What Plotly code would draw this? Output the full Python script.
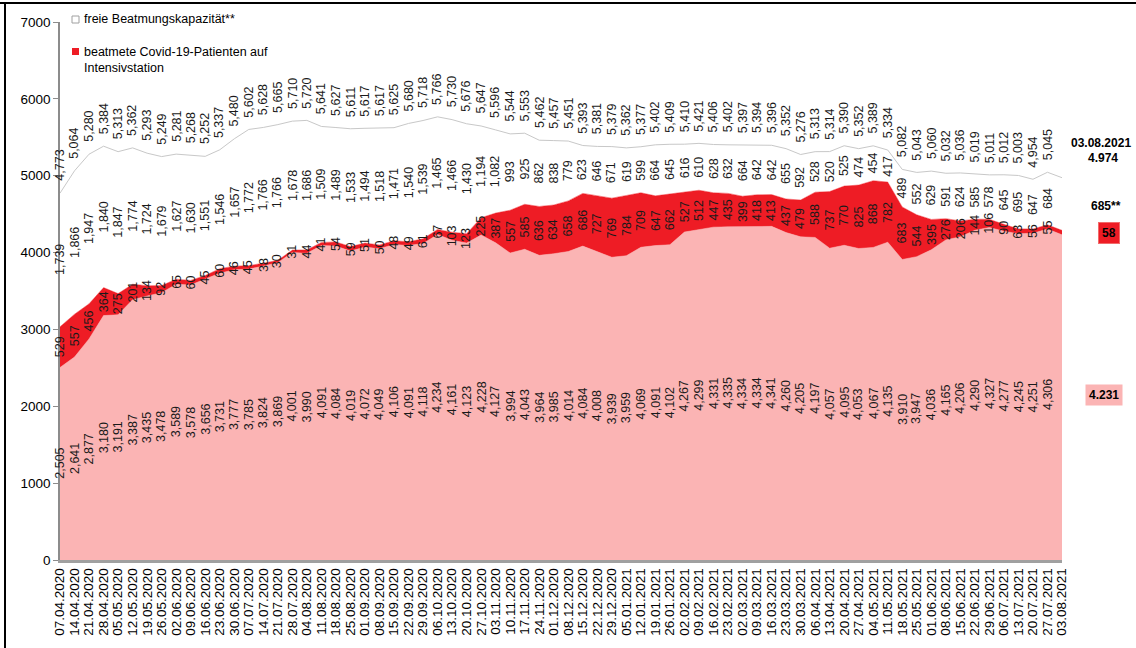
import plotly.graph_objects as go
from datetime import datetime

# ---------------- data ----------------
tick_labels = [
    "07.04.2020", "14.04.2020", "21.04.2020", "28.04.2020", "05.05.2020", "12.05.2020", "19.05.2020",
    "26.05.2020", "02.06.2020", "09.06.2020", "16.06.2020", "23.06.2020", "30.06.2020", "07.07.2020",
    "14.07.2020", "21.07.2020", "28.07.2020", "04.08.2020", "11.08.2020", "18.08.2020", "25.08.2020",
    "01.09.2020", "08.09.2020", "15.09.2020", "22.09.2020", "29.09.2020", "06.10.2020", "13.10.2020",
    "20.10.2020", "27.10.2020", "03.11.2020", "10.11.2020", "17.11.2020", "24.11.2020", "01.12.2020",
    "08.12.2020", "15.12.2020", "22.12.2020", "29.12.2020", "05.01.2021", "12.01.2021", "19.01.2021",
    "26.01.2021", "02.02.2021", "09.02.2021", "16.02.2021", "23.02.2021", "02.03.2021", "09.03.2021",
    "16.03.2021", "23.03.2021", "30.03.2021", "06.04.2021", "13.04.2021", "20.04.2021", "27.04.2021",
    "04.05.2021", "11.05.2021", "18.05.2021", "25.05.2021", "01.06.2021", "08.06.2021", "15.06.2021",
    "22.06.2021", "29.06.2021", "06.07.2021", "13.07.2021", "20.07.2021", "27.07.2021", "03.08.2021",
]

# ventilated non-Covid patients (pink)
other_patients = [
    2505, 2641, 2877, 3180, 3191, 3387, 3435, 3478, 3589, 3578, 3656, 3731, 3777, 3785, 3824, 3869,
    4001, 3990, 4091, 4084, 4019, 4072, 4049, 4106, 4091, 4118, 4234, 4161, 4123, 4228, 4127, 3994,
    4043, 3964, 3985, 4014, 4084, 4008, 3939, 3959, 4069, 4091, 4102, 4267, 4299, 4331, 4335, 4334,
    4334, 4341, 4260, 4205, 4197, 4057, 4095, 4053, 4067, 4135, 3910, 3947, 4036, 4165, 4206, 4290,
    4327, 4277, 4245, 4251, 4306, 4231,
]

# ventilated Covid-19 patients (red)
covid_patients = [
    529, 557, 456, 364, 275, 201, 134, 92, 65, 60, 45, 60, 46, 45, 38, 30, 31, 44, 41, 54, 59, 51,
    50, 48, 49, 61, 67, 103, 123, 225, 387, 557, 585, 636, 634, 658, 686, 727, 769, 784, 709, 647,
    662, 527, 512, 447, 435, 399, 418, 413, 437, 479, 588, 737, 770, 825, 868, 782, 683, 544, 395,
    276, 206, 144, 106, 90, 63, 56, 55, 58,
]

# free ventilation capacity (white)
free_capacity = [
    1739, 1866, 1947, 1840, 1847, 1774, 1724, 1679, 1627, 1630, 1551, 1546, 1657, 1772, 1766, 1766,
    1678, 1686, 1509, 1489, 1533, 1494, 1518, 1471, 1540, 1539, 1465, 1466, 1430, 1194, 1082, 993,
    925, 862, 838, 779, 623, 646, 671, 619, 599, 664, 645, 616, 610, 628, 632, 664, 642, 642, 655,
    592, 528, 520, 525, 474, 454, 417, 489, 552, 629, 591, 624, 585, 578, 645, 695, 647, 684, 685,
]

# ---------------- styles ----------------
PINK = "#FBB4B4"
RED = "#EE1C25"
LINE_GREY = "#C8C8C8"
FONT = "Liberation Sans, Arial, sans-serif"

dates = [datetime.strptime(s, "%d.%m.%Y") for s in tick_labels]
totals = [a + b + c for a, b, c in zip(other_patients, covid_patients, free_capacity)]
n_labeled = len(dates) - 1  # last point is annotated at the right side

# plot area in pixels
W_FIG, H_FIG = 1136, 648
L, R, T, B = 60, 1062, 22, 560


def px(x):
    return (x - L) / (R - L)


def py(y):
    return (B - y) / (B - T)


fig = go.Figure()
fig.add_trace(go.Scatter(
    x=dates, y=other_patients, stackgroup="s", mode="lines",
    line=dict(width=0.5, color=PINK), fillcolor=PINK, showlegend=False,
    name="beatmete Patienten ohne Covid-19", hoverinfo="skip"))
fig.add_trace(go.Scatter(
    x=dates, y=covid_patients, stackgroup="s", mode="lines",
    line=dict(width=0.5, color=RED), fillcolor=RED, showlegend=False,
    name="beatmete Covid-19-Patienten auf Intensivstation", hoverinfo="skip"))
fig.add_trace(go.Scatter(
    x=dates, y=free_capacity, stackgroup="s", mode="lines",
    line=dict(width=1, color=LINE_GREY), fillcolor="white", showlegend=False,
    name="freie Beatmungskapazität**", hoverinfo="skip"))

annotations = []
lab_font = dict(family=FONT, size=12.5, color="#1a1a1a")


def fmt(v):
    return f"{v:,}"


for i in range(n_labeled):
    d = dates[i]
    p, c, f, t = other_patients[i], covid_patients[i], free_capacity[i], totals[i]
    for val, yy in ((p, p / 2), (c, p + c / 2), (f, p + c + f / 2)):
        annotations.append(dict(x=d, y=yy, xref="x", yref="y", text=fmt(val), showarrow=False,
                                textangle=-90, font=lab_font, xanchor="center", yanchor="middle"))
    annotations.append(dict(x=d, y=t, xref="x", yref="y", text=fmt(t), showarrow=False,
                            textangle=-90, font=lab_font, xanchor="center", yanchor="bottom",
                            yshift=10))

# legend (custom)
annotations.append(dict(x=px(82), y=py(19), xref="paper", yref="paper", showarrow=False,
                        text="freie Beatmungskapazität**", xanchor="left", yanchor="middle",
                        font=dict(family=FONT, size=12.5, color="black")))
annotations.append(dict(x=px(82), y=py(43), xref="paper", yref="paper", showarrow=False,
                        text="beatmete Covid-19-Patienten auf<br>Intensivstation", align="left",
                        xanchor="left", yanchor="top",
                        font=dict(family=FONT, size=12.5, color="black")))

# right-side annotations for the last day
bold = dict(family=FONT, size=12, color="black")
last_total = totals[-1]
annotations += [
    dict(x=px(1101), y=py(143), xref="paper", yref="paper", showarrow=False,
         text=f"<b>{tick_labels[-1]}</b>", font=bold, xanchor="center", yanchor="middle"),
    dict(x=px(1103), y=py(158), xref="paper", yref="paper", showarrow=False,
         text=f"<b>{fmt(last_total).replace(',', '.')}</b>", font=bold, xanchor="center",
         yanchor="middle"),
    dict(x=px(1106), y=py(206), xref="paper", yref="paper", showarrow=False,
         text=f"<b>{fmt(free_capacity[-1]).replace(',', '.')}**</b>", font=bold,
         xanchor="center", yanchor="middle"),
    dict(x=px(1109), y=py(233), xref="paper", yref="paper", showarrow=False,
         text=f"<b>{fmt(covid_patients[-1])}</b>", font=bold, xanchor="center",
         yanchor="middle", bgcolor=RED, bordercolor="#F26B6B", borderwidth=1, borderpad=3),
    dict(x=px(1104), y=py(395), xref="paper", yref="paper", showarrow=False,
         text=f"<b>{fmt(other_patients[-1]).replace(',', '.')}</b>", font=bold,
         xanchor="center", yanchor="middle", bgcolor=PINK, borderpad=3),
]

shapes = [
    dict(type="rect", xref="paper", yref="paper", x0=px(72), x1=px(79), y0=py(23), y1=py(16),
         fillcolor="white", line=dict(color="#A0A0A0", width=1)),
    dict(type="rect", xref="paper", yref="paper", x0=px(72), x1=px(79), y0=py(55), y1=py(48),
         fillcolor=RED, line=dict(width=0)),
    # outer frame
    dict(type="line", xref="paper", yref="paper", x0=px(0), x1=px(W_FIG + 5), y0=py(3), y1=py(3),
         line=dict(color="black", width=2)),
    dict(type="line", xref="paper", yref="paper", x0=px(5), x1=px(5), y0=py(3), y1=py(H_FIG + 5),
         line=dict(color="black", width=2)),
]

fig.update_layout(
    width=W_FIG, height=H_FIG,
    margin=dict(l=L, r=W_FIG - R, t=T, b=H_FIG - B, pad=0),
    paper_bgcolor="white", plot_bgcolor="white",
    showlegend=False,
    font=dict(family=FONT, color="black"),
    annotations=annotations,
    shapes=shapes,
    xaxis=dict(
        type="date", range=[dates[0], dates[-1]],
        tickmode="array", tickvals=dates, ticktext=tick_labels, tickangle=-90,
        tickfont=dict(family=FONT, size=13.5, color="black"),
        showline=True, linecolor="#A0A0A0", linewidth=2.5, ticks="",
        showgrid=False, zeroline=False,
    ),
    yaxis=dict(
        range=[0, 7000], tickmode="array", tickvals=list(range(0, 7001, 1000)),
        tickfont=dict(family=FONT, size=13.5, color="black"),
        showline=True, linecolor="#8C8C8C", linewidth=1.5, ticks="outside", ticklen=5,
        tickcolor="#8C8C8C", showgrid=False, zeroline=False,
    ),
)

fig.write_html("out.html", config={"displayModeBar": False},
               post_script="document.body.style.margin='0';")
